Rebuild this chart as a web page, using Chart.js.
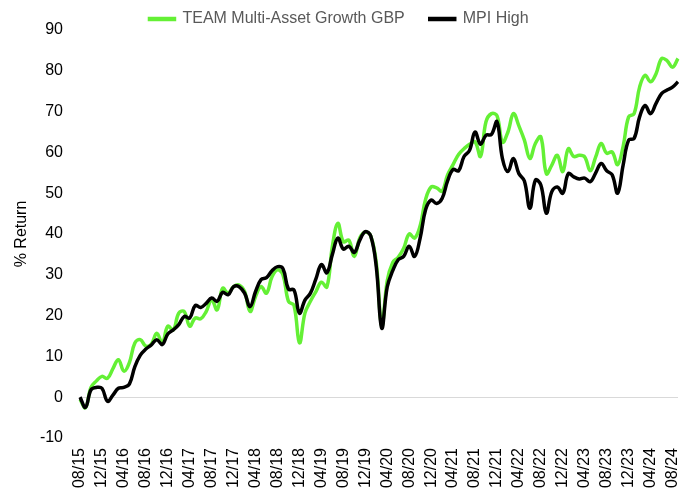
<!DOCTYPE html>
<html>
<head>
<meta charset="utf-8">
<script src="https://cdn.jsdelivr.net/npm/chart.js@4.4.1/dist/chart.umd.min.js"></script>
<style>
  html, body { margin: 0; padding: 0; background: #fff; }
</style>
</head>
<body>
<canvas id="chart" width="690" height="498"></canvas>
<script>
// monthly categories, 08/15 .. 09/24
const months = [
  '08/15','09/15','10/15','11/15','12/15',
  '01/16','02/16','03/16','04/16','05/16','06/16','07/16','08/16','09/16','10/16','11/16','12/16',
  '01/17','02/17','03/17','04/17','05/17','06/17','07/17','08/17','09/17','10/17','11/17','12/17',
  '01/18','02/18','03/18','04/18','05/18','06/18','07/18','08/18','09/18','10/18','11/18','12/18',
  '01/19','02/19','03/19','04/19','05/19','06/19','07/19','08/19','09/19','10/19','11/19','12/19',
  '01/20','02/20','03/20','04/20','05/20','06/20','07/20','08/20','09/20','10/20','11/20','12/20',
  '01/21','02/21','03/21','04/21','05/21','06/21','07/21','08/21','09/21','10/21','11/21','12/21',
  '01/22','02/22','03/22','04/22','05/22','06/22','07/22','08/22','09/22','10/22','11/22','12/22',
  '01/23','02/23','03/23','04/23','05/23','06/23','07/23','08/23','09/23','10/23','11/23','12/23',
  '01/24','02/24','03/24','04/24','05/24','06/24','07/24','08/24','09/24'
];

// labels actually printed on the x axis (every 4th month)
const tickLabels = [
  '08/15','12/15','04/16','08/16','12/16','04/17','08/17','12/17','04/18','08/18',
  '12/18','04/19','08/19','12/19','04/20','08/20','12/20','04/21','08/21','12/21',
  '04/22','08/22','12/22','04/23','08/23','12/23','04/24','08/24'
];

// cumulative % return
const teamGrowth = [
  -0.5, -2.6, 2.4, 4.0, 5.1, 4.6, 7.0, 9.2, 6.4, 8.5,
  13.3, 14.1, 12.5, 13.0, 15.7, 13.3, 17.4, 16.5, 20.6, 21.0,
  17.4, 19.4, 19.2, 21.0, 23.9, 21.4, 26.7, 25.5, 27.1, 27.5,
  25.9, 21.0, 24.7, 27.1, 25.5, 29.5, 31.2, 30.0, 23.5, 22.5,
  13.3, 20.6, 23.5, 25.9, 28.2, 27.0, 37.0, 42.6, 38.1, 38.5,
  34.5, 39.0, 40.5, 39.5, 33.0, 17.5, 28.5, 33.0, 34.3, 36.5,
  40.0, 39.0, 42.0, 48.5, 51.5, 51.3, 50.5, 54.5, 57.0, 59.5,
  60.9, 62.0, 62.6, 59.0, 67.5, 69.5, 69.0, 62.5, 65.0, 69.5,
  66.5, 63.0, 58.5, 62.2, 63.8, 54.8, 56.9, 59.3, 55.3, 60.9,
  59.0, 59.3, 58.9, 55.5, 58.9, 62.2, 59.8, 60.1, 57.0, 61.5,
  68.7, 69.5, 76.0, 78.9, 77.3, 79.3, 83.0, 82.5, 80.9, 83.0
];

const mpiHigh = [
  0.0, -2.5, 1.8, 2.4, 2.2, -1.0, 0.5, 2.2, 2.4, 3.2,
  7.5, 10.3, 11.8, 12.8, 14.1, 12.9, 15.5, 16.5, 17.8, 19.8,
  19.4, 22.5, 22.0, 23.0, 24.3, 23.5, 25.7, 25.1, 27.1, 27.1,
  25.5, 22.2, 25.9, 28.8, 29.3, 31.0, 32.0, 31.5, 26.5, 26.3,
  20.6, 23.8, 25.5, 29.0, 32.5, 30.5, 35.0, 39.0, 36.3, 37.0,
  35.5, 38.5, 40.6, 39.5, 32.0, 16.9, 27.0, 31.0, 33.7, 34.5,
  37.0, 34.5, 39.0, 46.0, 48.3, 47.5, 48.7, 53.0, 55.8, 55.5,
  59.0, 60.5, 65.0, 62.0, 64.2, 64.4, 67.5, 58.5, 55.3, 58.5,
  54.8, 53.0, 46.3, 53.2, 52.0, 45.1, 50.4, 51.5, 50.0, 54.8,
  54.0, 53.5, 53.7, 52.8, 55.0, 57.3, 55.5, 54.5, 50.0, 56.9,
  63.0, 63.4, 68.7, 71.5, 69.5, 72.0, 74.4, 75.3, 76.0, 77.3
];

const yMin = -10;
const yMax = 90;
const yStep = 10;

Chart.defaults.font.family = '"Liberation Sans", Arial, sans-serif';
Chart.defaults.font.size = 16;
Chart.defaults.color = '#000';

const ctx = document.getElementById('chart').getContext('2d');
new Chart(ctx, {
  type: 'line',
  data: {
    labels: months,
    datasets: [
      {
        label: 'TEAM Multi-Asset Growth GBP',
        data: teamGrowth,
        borderColor: '#64f035',
        backgroundColor: '#64f035',
        borderWidth: 3.5,
        pointRadius: 0,
        tension: 0.4,
        order: 2
      },
      {
        label: 'MPI High',
        data: mpiHigh,
        borderColor: '#000',
        backgroundColor: '#000',
        borderWidth: 3.5,
        pointRadius: 0,
        tension: 0.4,
        order: 1
      }
    ]
  },
  options: {
    responsive: false,
    animation: false,
    devicePixelRatio: 1,
    layout: { padding: { top: -14, right: 12, left: 0, bottom: 0 } },
    plugins: {
      tooltip: { enabled: false },
      legend: {
        position: 'top',
        maxHeight: 44,
        labels: {
          boxWidth: 25,
          boxHeight: 1,
          padding: 25,
          color: '#595959',
          font: { size: 16 },
          sort: (a, b) => a.datasetIndex - b.datasetIndex
        }
      }
    },
    scales: {
      x: {
        grid: { display: false, drawTicks: false },
        border: { display: false },
        afterFit: s => { s.height = 60; s.paddingLeft = 0; s.paddingRight = 0; },
        ticks: {
          autoSkip: false,
          minRotation: 90,
          maxRotation: 90,
          padding: 10,
          color: '#000',
          callback: (v, i) => tickLabels.includes(months[i]) ? months[i] : ''
        }
      },
      y: {
        min: yMin,
        max: yMax,
        afterFit: s => { s.width = 80; },
        grid: {
          drawTicks: false,
          color: c => (c.tick && c.tick.value === 0) ? '#d9d9d9' : 'rgba(0,0,0,0)'
        },
        border: { display: false },
        ticks: { stepSize: yStep, padding: 17, color: '#000' },
        title: {
          display: true,
          text: '% Return',
          color: '#000',
          font: { size: 16 },
          padding: { top: 12, bottom: 0 }
        }
      }
    }
  }
});
</script>
</body>
</html>
